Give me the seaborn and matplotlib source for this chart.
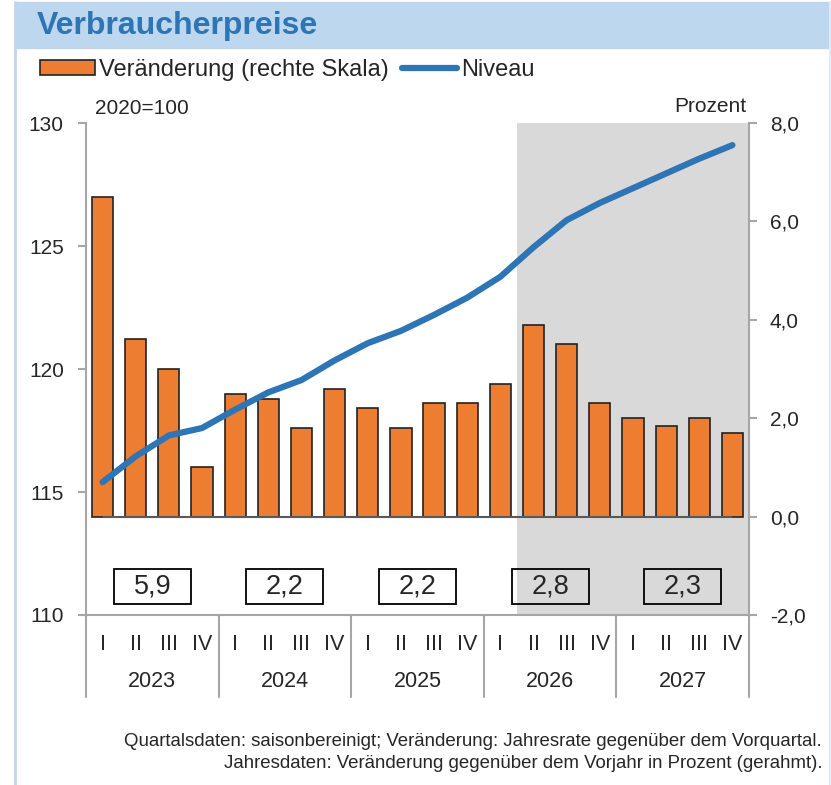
import matplotlib
matplotlib.use("Agg")
import matplotlib.pyplot as plt
import matplotlib.patches as mpatches
import seaborn as sns
import pandas as pd

# Quarterly data 2023-2027
quarters = ["I", "II", "III", "IV"] * 5
years = ["2023", "2024", "2025", "2026", "2027"]
# Veränderung, Jahresrate ggü. Vorquartal (right scale, %)
change = [6.5, 3.6, 3.0, 1.0, 2.5, 2.4, 1.8, 2.6, 2.2, 1.8,
          2.3, 2.3, 2.7, 3.9, 3.5, 2.3, 2.0, 1.85, 2.0, 1.7]
# Niveau, 2020=100 (left scale)
level = [115.4, 116.45, 117.3, 117.6, 118.35, 119.05, 119.55, 120.35, 121.05, 121.55,
         122.2, 122.9, 123.75, 124.95, 126.05, 126.75, 127.35, 127.95, 128.55, 129.1]
# Jahresdaten: Veränderung ggü. Vorjahr (gerahmt)
annual = ["5,9", "2,2", "2,2", "2,8", "2,3"]
forecast_start = 13  # index of first shaded quarter (2026 II)

df = pd.DataFrame({"pos": range(len(change)), "change": change, "level": level})

sns.set_style("white")
plt.rcParams["font.family"] = ["Liberation Sans", "DejaVu Sans"]

orange = "#ED7D31"
blue = "#2E75B6"
grey = "#A6A6A6"

fig = plt.figure(figsize=(8.31, 7.85), dpi=100)

# header band + frame
fig.patches.append(mpatches.Rectangle((15 / 831, 1 - 48 / 785), 815 / 831, 46 / 785,
                                      transform=fig.transFigure, color="#BDD7EE", zorder=0))
fig.add_artist(plt.Line2D([15 / 831, 15 / 831], [0, 1 - 2 / 785], color="#BDD7EE", lw=2))
fig.add_artist(plt.Line2D([830 / 831, 830 / 831], [0, 1 - 2 / 785], color="#DDEBF7", lw=1.5))
fig.text(37 / 831, 1 - 26 / 785, "Verbraucherpreise", fontsize=23, fontweight="bold",
         color=blue, va="center", ha="left")

ax = fig.add_axes([86 / 831, 1 - 615 / 785, 663 / 831, 492 / 785])
ax2 = ax.twinx()
ax2.patch.set_visible(True)
ax2.patch.set_facecolor("white")
ax.set_zorder(ax2.get_zorder() + 1)
ax.patch.set_visible(False)

# forecast shading
ax2.axvspan(forecast_start - 0.5, len(change) - 0.5, color="#D9D9D9", zorder=0, lw=0)

sns.barplot(data=df, x="pos", y="change", ax=ax2, color=orange, saturation=1,
            edgecolor="#222222", linewidth=1.2, width=0.64, label="Veränderung (rechte Skala)")
ax2.hlines(0, 0, len(change) - 1, color="#595959", lw=1.5, zorder=3)

sns.lineplot(data=df, x="pos", y="level", ax=ax, color=blue, lw=4.5,
             solid_capstyle="round", label="Niveau")
for a in (ax, ax2):
    if a.get_legend():
        a.get_legend().remove()

ax.set_xlim(-0.5, len(change) - 0.5)
ax.set_ylim(110, 130)
ax2.set_ylim(-2, 8)

ax.set_yticks([110, 115, 120, 125, 130])
ax.set_yticklabels(["110", "115", "120", "125", "130"])
ax2.set_yticks([-2, 0, 2, 4, 6, 8])
ax2.set_yticklabels(["-2,0", "0,0", "2,0", "4,0", "6,0", "8,0"])
ax.set_xticks(range(len(quarters)))
ax.set_xticklabels(quarters)
ax.set_xlabel("")
ax.set_ylabel("")
ax2.set_xlabel("")
ax2.set_ylabel("")

ax.tick_params(axis="y", left=True, length=6, width=1.5, color=grey, pad=10, labelsize=15)
ax2.tick_params(axis="y", right=True, length=6, width=1.5, color=grey, pad=9, labelsize=15)
ax.tick_params(axis="x", length=0, pad=14, labelsize=15.5)

for s in ["top", "right"]:
    ax.spines[s].set_visible(False)
for s in ["top", "left", "bottom"]:
    ax2.spines[s].set_visible(False)
for s in ["left", "bottom"]:
    ax.spines[s].set_color(grey)
    ax.spines[s].set_linewidth(1.5)
ax2.spines["right"].set_color(grey)
ax2.spines["right"].set_linewidth(1.5)

# year groups: separators, labels, annual boxes
xt = ax.get_xaxis_transform()
for i in range(len(years) + 1):
    xs = i * 4 - 0.5
    ax.plot([xs, xs], [0, -0.167], transform=xt, color=grey, lw=1.5, clip_on=False)
for i, (yr, val) in enumerate(zip(years, annual)):
    xc = i * 4 + 1.5
    ax.text(xc, -0.136, yr, transform=xt, ha="center", va="center", fontsize=15.5)
    ax.add_patch(mpatches.Rectangle((xc - 1.16, 0.0224), 2.32, 0.071, transform=xt,
                                    fill=False, edgecolor="black", lw=1.3, clip_on=False))
    ax.text(xc, 0.058, val, transform=xt, ha="center", va="center", fontsize=19.5)

fig.text(95 / 831, 1 - 109 / 785, "2020=100", fontsize=15, ha="left", va="center")
fig.text(746 / 831, 1 - 107 / 785, "Prozent", fontsize=15, ha="right", va="center")

# legend
fig.legend([ax2.containers[0], ax.lines[0]], ["Veränderung (rechte Skala)", "Niveau"],
           loc="center left", bbox_to_anchor=(40 / 831, 1 - 70 / 785), ncol=2,
           frameon=False, fontsize=17, handlelength=2.35, handleheight=0.6,
           handletextpad=0.15, columnspacing=0.55, borderpad=0, borderaxespad=0)

fig.text(822 / 831, 1 - 741 / 785,
         "Quartalsdaten: saisonbereinigt; Veränderung: Jahresrate gegenüber dem Vorquartal.",
         fontsize=13.4, ha="right", va="center")
fig.text(822 / 831, 1 - 763 / 785,
         "Jahresdaten: Veränderung gegenüber dem Vorjahr in Prozent (gerahmt).",
         fontsize=13.4, ha="right", va="center")

fig.savefig("out.png", dpi=100)
